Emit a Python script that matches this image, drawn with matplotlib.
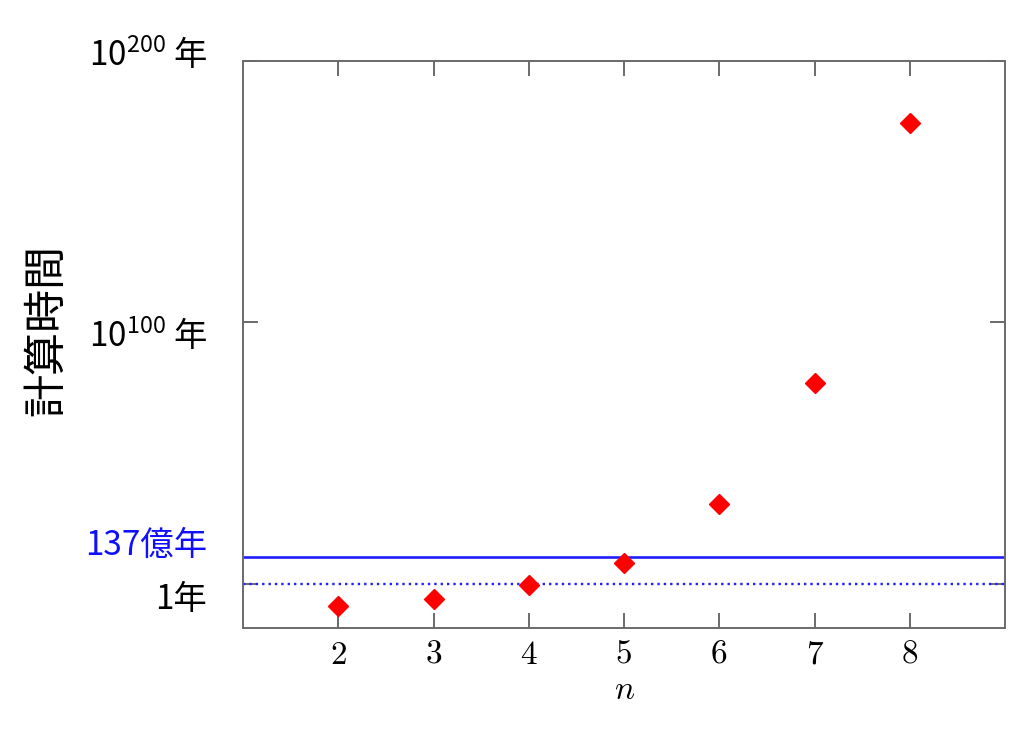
import matplotlib
matplotlib.use("Agg")
import matplotlib.pyplot as plt

# data: log10 of computation time in years
n_values = [2, 3, 4, 5, 6, 7, 8]
log10_years = [-8.5, -6.0, -0.6, 7.8, 30.5, 76.6, 176.2]

age_universe_log10 = 10.14   # 137億年
one_year_log10 = 0.0         # 1年

y_tick_values = [200, 100]
y_tick_texts = ["$10^{200}$ 年", "$10^{100}$ 年"]
x_ticks = [2, 3, 4, 5, 6, 7, 8]

plt.rcParams['mathtext.fontset'] = 'custom'
plt.rcParams['mathtext.rm'] = 'Noto Sans CJK JP'
plt.rcParams['mathtext.default'] = 'rm'
plt.rcParams['font.family'] = ['Noto Sans CJK JP', 'DejaVu Sans']

fig = plt.figure(figsize=(10.24, 7.3), dpi=100)
ax = fig.add_axes([243/1024, 1-628/730, (1005-243)/1024, (628-60.5)/730])

spine_color = '#6a6a6a'
for s in ax.spines.values():
    s.set_color(spine_color)
    s.set_linewidth(1.4)

ax.axhline(age_universe_log10, color='#2020ff', lw=1.9, zorder=2)
ax.axhline(one_year_log10, color='#2020ff', lw=1.7, ls=(0, (1, 1.7)), zorder=2)

ax.plot(n_values, log10_years, ls='none', marker='D', ms=10.5,
        color='#ff0000', zorder=4)

ax.set_xlim(1, 9)
ax.set_ylim(-17, 200)

ax.set_xticks(x_ticks)
ax.set_xticklabels([str(v) for v in x_ticks], fontfamily='cmr10', fontsize=24)
ax.set_yticks([200, 100, 0])
ax.set_yticklabels([])
ax.tick_params(axis='both', direction='in', length=11, width=1.4,
               color=spine_color, top=True, right=True)
ax.tick_params(axis='x', pad=9)

ax.set_xlabel('n', fontfamily='cmmi10', fontsize=24, labelpad=4)

# y tick labels
offsets = [-5.5, -24.7]
for v, t, off in zip(y_tick_values, y_tick_texts, offsets):
    ax.annotate(t, xy=(0, v), xycoords=('axes fraction', 'data'),
                xytext=(-36, off), textcoords='offset pixels',
                ha='right', va='baseline', fontsize=24, color='black')
ax.annotate("137億年", xy=(0, age_universe_log10), xycoords=('axes fraction', 'data'),
            xytext=(-36, 1.7), textcoords='offset pixels',
            ha='right', va='baseline', fontsize=24, color='#1010ff')
ax.annotate("1年", xy=(0, one_year_log10), xycoords=('axes fraction', 'data'),
            xytext=(-36, -25.7), textcoords='offset pixels',
            ha='right', va='baseline', fontsize=24, color='black')

fig.text(47/1024, 1-330/730, '計算時間', rotation=90, ha='center', va='center',
         fontsize=31)

fig.savefig('out.png', dpi=100)
